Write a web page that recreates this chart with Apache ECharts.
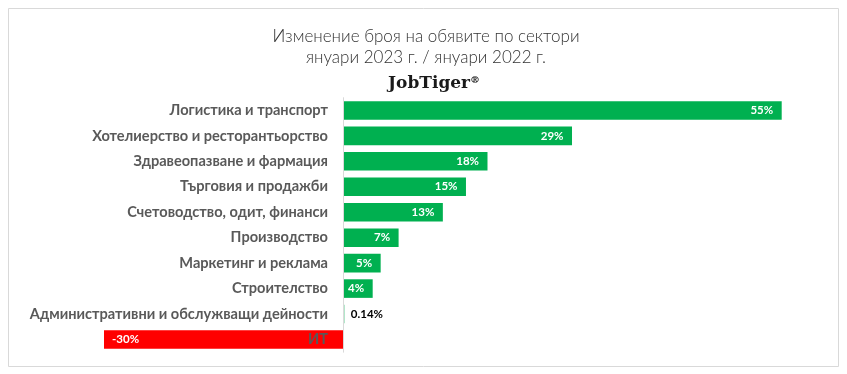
<!DOCTYPE html>
<html>
<head>
<meta charset="utf-8">
<script src="https://cdn.jsdelivr.net/npm/echarts@6/dist/echarts.min.js"></script>
<style>
html,body{margin:0;padding:0;background:#fff;}
#chart{width:847px;height:374px;}
</style>
</head>
<body>
<div id="chart"></div>
<script>
var categories = [
  'Логистика и транспорт',
  'Хотелиерство и ресторантьорство',
  'Здравеопазване и фармация',
  'Търговия и продажби',
  'Счетоводство, одит, финанси',
  'Производство',
  'Маркетинг и реклама',
  'Строителство',
  'Административни и обслужващи дейности',
  'ИТ'
];
var values = [55, 28.7, 18.1, 15.4, 12.5, 6.95, 4.7, 3.7, 0.14, -30];
var titleLines = ['Изменение броя на обявите по сектори', 'януари 2023 г. / януари 2022 г.'];
var brand = 'JobTiger';

var FONT = 'Lato';
var GREEN = '#00b050', RED = '#ff0000';

function fmt(v) {
  return (Math.abs(v) < 1 ? v.toFixed(2) : Math.round(v)) + '%';
}

var data = values.map(function (v) {
  var small = Math.abs(v) < 1;
  var neg = v < 0;
  return {
    value: v,
    itemStyle: { color: neg ? RED : GREEN },
    label: {
      position: small ? 'right' : (neg ? 'insideLeft' : 'insideRight'),
      color: small ? '#000000' : '#ffffff',
      distance: small ? 6.5 : (neg ? 8 : 8.5)
    }
  };
});

var GRID_LEFT = 104;
var LABEL_RIGHT = 328;
var chart = echarts.init(document.getElementById('chart'), null, { renderer: 'canvas' });
chart.setOption({
  animation: false,
  backgroundColor: '#ffffff',
  title: [{
    text: titleLines.join('\n'),
    left: 421,
    textAlign: 'center',
    top: 21,
    textStyle: { fontFamily: FONT, fontWeight: 300, fontSize: 17, color: '#333333', lineHeight: 21 }
  }, {
    text: '{a|' + brand + '}{b|®}',
    left: 383,
    top: 70,
    textStyle: {
      rich: {
        a: { fontFamily: 'DejaVu Serif', fontWeight: 'bold', fontSize: 17, color: '#1a1a1a' },
        b: { fontFamily: 'DejaVu Serif', fontWeight: 'bold', fontSize: 10, color: '#1a1a1a', verticalAlign: 'top', padding: [0, 0, 7, 0] }
      }
    }
  }],
  graphic: [{
    type: 'rect',
    shape: { x: 8.5, y: 8.5, width: 830, height: 358 },
    style: { fill: 'none', stroke: '#d9d9d9', lineWidth: 1 },
    silent: true
  }],
  grid: { left: GRID_LEFT, right: 65.3, top: 97.7, bottom: 21.8, containLabel: false, outerBoundsMode: 'none' },
  xAxis: {
    type: 'value', min: -30, max: 55,
    show: false,
    splitLine: { show: false }
  },
  yAxis: {
    type: 'category',
    data: categories,
    inverse: true,
    z: 10,
    axisLine: { show: true, onZero: true, lineStyle: { color: '#d9d9d9', width: 1 } },
    axisTick: { show: false },
    axisLabel: {
      margin: GRID_LEFT - LABEL_RIGHT,
      fontFamily: FONT, fontWeight: 'bold', fontSize: 14.6, color: '#595959'
    }
  },
  series: [{
    type: 'bar',
    data: data,
    barCategoryGap: '27%',
    label: {
      show: true,
      fontFamily: FONT, fontWeight: 'bold', fontSize: 11.5,
      formatter: function (p) { return fmt(p.value); }
    }
  }]
});
</script>
</body>
</html>
